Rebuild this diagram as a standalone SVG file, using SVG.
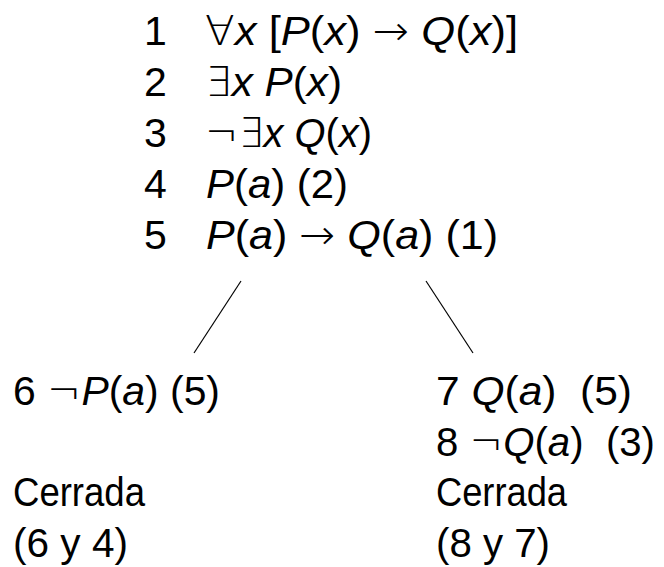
<svg xmlns="http://www.w3.org/2000/svg" width="664" height="567" viewBox="0 0 664 567">
<style>
text{font-family:"Liberation Sans","DejaVu Sans",sans-serif;font-size:41px;fill:#000}
.i{font-style:italic}
.s{font-family:"DejaVu Sans",sans-serif;font-weight:200}
.ln{stroke:#000;stroke-width:1.2;fill:none}
</style>
<rect width="664" height="567" fill="#fff"/>
<g id="root">
<text x="144" y="45">1</text>
<text x="205" y="45" textLength="313" lengthAdjust="spacingAndGlyphs"><tspan class="s">∀</tspan><tspan class="i">x</tspan> [<tspan class="i">P</tspan>(<tspan class="i">x</tspan>) <tspan class="s">→</tspan> <tspan class="i">Q</tspan>(<tspan class="i">x</tspan>)]</text>
<text x="144" y="96">2</text>
<text x="205" y="96" textLength="137" lengthAdjust="spacingAndGlyphs"><tspan class="s">∃</tspan><tspan class="i">x</tspan> <tspan class="i">P</tspan>(<tspan class="i">x</tspan>)</text>
<text x="144" y="147">3</text>
<text x="205" y="147" textLength="167" lengthAdjust="spacingAndGlyphs"><tspan class="s">¬∃</tspan><tspan class="i">x</tspan> <tspan class="i">Q</tspan>(<tspan class="i">x</tspan>)</text>
<text x="144" y="198">4</text>
<text x="206" y="198" textLength="142" lengthAdjust="spacingAndGlyphs"><tspan class="i">P</tspan>(<tspan class="i">a</tspan>) (2)</text>
<text x="144" y="249">5</text>
<text x="206" y="249" textLength="292" lengthAdjust="spacingAndGlyphs"><tspan class="i">P</tspan>(<tspan class="i">a</tspan>) <tspan class="s">→</tspan> <tspan class="i">Q</tspan>(<tspan class="i">a</tspan>) (1)</text>
</g>
<g id="connectors">
<line class="ln" x1="241" y1="281" x2="194" y2="353"/>
<line class="ln" x1="426" y1="281" x2="473" y2="353"/>
</g>
<g id="left">
<text x="13" y="405" textLength="207" lengthAdjust="spacingAndGlyphs">6 <tspan class="s">¬</tspan><tspan class="i">P</tspan>(<tspan class="i">a</tspan>) (5)</text>
<text x="13" y="506" textLength="132" lengthAdjust="spacingAndGlyphs">Cerrada</text>
<text x="13" y="557" textLength="115" lengthAdjust="spacingAndGlyphs">(6 y 4)</text>
</g>
<g id="right">
<text x="436" y="405" textLength="196" lengthAdjust="spacingAndGlyphs" xml:space="preserve">7 <tspan class="i">Q</tspan>(<tspan class="i">a</tspan>)  (5)</text>
<text x="436" y="456" textLength="219" lengthAdjust="spacingAndGlyphs" xml:space="preserve">8 <tspan class="s">¬</tspan><tspan class="i">Q</tspan>(<tspan class="i">a</tspan>)  (3)</text>
<text x="436" y="506" textLength="131" lengthAdjust="spacingAndGlyphs">Cerrada</text>
<text x="436" y="557" textLength="114" lengthAdjust="spacingAndGlyphs">(8 y 7)</text>
</g>
</svg>
